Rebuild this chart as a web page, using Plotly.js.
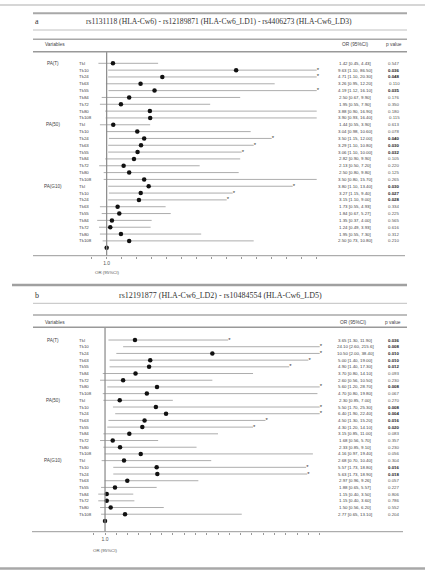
<!DOCTYPE html>
<html>
<head>
<meta charset="utf-8">
<script src="https://cdn.plot.ly/plotly-3.0.1.min.js"></script>
<style>html,body{margin:0;padding:0;background:#fff}#chart{width:425px;height:570px}</style>
</head>
<body>
<div id="chart"></div>
<script>
// ---------- data ----------
const groups = ["PA(T)", "PA(50)", "PA(G10)"];
const rowLabels = ["TkI", "Tk10", "Tk24", "Tk63", "Tk55", "Tk84", "Tk72", "Tk80", "Tk108"];
const refOR = [1.0];

const titleA = "rs1131118 (HLA-Cw6) - rs12189871 (HLA-Cw6_LD1) - rs4406273 (HLA-Cw6_LD3)";
const orA = [1.42, 9.63, 4.71, 3.26, 4.19, 2.50, 1.95, 3.88, 3.90,
             1.44, 3.04, 3.50, 3.29, 3.06, 2.82, 2.13, 2.50, 3.50,
             3.80, 3.27, 3.15, 1.73, 1.84, 1.35, 1.24, 1.95, 2.50];
const loA = [0.45, 1.10, 1.10, 0.95, 1.12, 0.67, 0.55, 0.90, 0.93,
             0.55, 0.98, 1.15, 1.10, 1.10, 0.90, 0.50, 0.80, 0.80,
             1.10, 1.15, 1.10, 0.55, 0.67, 0.37, 0.49, 0.55, 0.73];
const hiA = [4.43, 86.5, 20.3, 12.2, 16.1, 9.90, 7.90, 16.9, 16.4,
             3.90, 10.6, 12.0, 10.8, 10.0, 9.90, 7.20, 9.80, 15.7,
             13.4, 9.40, 9.00, 4.93, 5.27, 4.00, 3.93, 7.30, 10.8];
const pA = ["0.547", "0.036", "0.048", "0.110", "0.035", "0.176", "0.350", "0.180", "0.115",
            "0.613", "0.078", "0.040", "0.030", "0.032", "0.105", "0.220", "0.125", "0.265",
            "0.030", "0.027", "0.028", "0.334", "0.225", "0.565", "0.616", "0.312", "0.210"];

const titleB = "rs12191877 (HLA-Cw6_LD2) - rs10484554 (HLA-Cw6_LD5)";
const orB = [3.65, 24.1, 10.5, 5.00, 4.90, 3.70, 2.60, 5.60, 4.70,
             2.30, 5.50, 6.40, 4.50, 4.30, 3.15, 1.68, 2.33, 4.16,
             2.68, 5.57, 5.63, 2.97, 1.88, 1.15, 1.15, 1.50, 2.77];
const loB = [1.30, 2.60, 2.00, 1.40, 1.40, 0.80, 0.56, 1.20, 0.80,
             0.85, 1.70, 1.90, 1.30, 1.20, 0.85, 0.56, 0.85, 0.97,
             0.70, 1.73, 1.73, 0.96, 0.65, 0.40, 0.40, 0.56, 0.65];
const hiB = [11.9, 215.6, 38.4, 19.0, 17.3, 14.1, 10.5, 28.7, 19.8,
             7.00, 25.3, 22.4, 15.2, 14.1, 11.0, 5.70, 9.10, 19.4,
             10.4, 18.8, 18.9, 9.26, 5.57, 3.50, 3.60, 6.20, 13.1];
const pB = ["0.036", "0.008", "0.010", "0.010", "0.012", "0.093", "0.230", "0.008", "0.067",
            "0.270", "0.008", "0.004", "0.016", "0.020", "0.083", "0.357", "0.230", "0.056",
            "0.304", "0.016", "0.018", "0.057", "0.227", "0.806", "0.786", "0.552", "0.204"];

// ---------- helpers ----------
const W = 425, H = 570;
const px = x => x / W;
const py = y => 1 - y / H;
const fmt = v => (v >= 100 ? v.toFixed(1) : v.toFixed(2));
const SANS = "Liberation Sans, Arial, sans-serif";
const SERIF = "Liberation Serif, Times New Roman, serif";

const traces = [];
const annotations = [];
const shapes = [];

function hline(y, x0, x1, color, width) {
  shapes.push({type: "line", xref: "paper", yref: "paper", x0: px(x0), x1: px(x1), y0: py(y), y1: py(y),
               line: {color: color, width: width}});
}
function txt(text, x, y, opts) {
  annotations.push(Object.assign({text: text, x: x, y: y, xref: "paper", yref: "paper",
    showarrow: false, xanchor: "left", yanchor: "middle",
    font: {family: SANS, size: 4.6, color: "#444"}}, opts || {}));
}

function panel(xa, ya, or, lo, hi, p, xmax) {
  const n = or.length;
  const lx = [], ly = [];
  for (let i = 0; i < n; i++) { lx.push(lo[i], hi[i], null); ly.push(i, i, null); }
  traces.push({type: "scatter", mode: "lines", x: lx, y: ly, xaxis: xa, yaxis: ya,
               line: {color: "#adadad", width: 1}, hoverinfo: "skip"});
  const idx = or.map((_, i) => i);
  traces.push({type: "scatter", mode: "markers", x: or.concat(refOR), y: idx.concat([n]),
               xaxis: xa, yaxis: ya, marker: {color: "#111", size: 4.5, symbol: "circle"},
               hoverinfo: "skip"});
  // significance asterisks
  const sx = [], sy = [];
  for (let i = 0; i < n; i++) {
    if (parseFloat(p[i]) < 0.05) { sx.push(Math.min(hi[i], xmax)); sy.push(i); }
  }
  traces.push({type: "scatter", mode: "text", x: sx, y: sy, text: sx.map(() => "*"),
               textposition: "middle right", cliponaxis: false,
               textfont: {family: SANS, size: 6, color: "#333"},
               xaxis: xa, yaxis: ya, hoverinfo: "skip"});
  const yref = ya;
  for (let i = 0; i < n; i++) {
    const g = Math.floor(i / 9), r = i % 9;
    if (r === 0) {
      annotations.push({text: groups[g], x: px(53), y: i, xref: "paper", yref: yref, showarrow: false,
                        xanchor: "center", yanchor: "middle", font: {family: SANS, size: 4.6, color: "#444"}});
    }
    annotations.push({text: rowLabels[r], x: px(76.5), y: i, xref: "paper", yref: yref, showarrow: false,
                      xanchor: "left", yanchor: "middle", font: {family: SANS, size: 4.4, color: "#444"}});
    annotations.push({text: fmt(or[i]) + " [" + fmt(lo[i]) + ", " + fmt(hi[i]) + "]",
                      x: px(355), y: i, xref: "paper", yref: yref, showarrow: false,
                      xanchor: "center", yanchor: "middle", font: {family: SANS, size: 4.4, color: "#444"}});
    const sig = parseFloat(p[i]) < 0.05;
    annotations.push({text: sig ? "<b>" + p[i] + "</b>" : p[i],
                      x: px(394), y: i, xref: "paper", yref: yref, showarrow: false,
                      xanchor: "center", yanchor: "middle", font: {family: SANS, size: 4.4, color: sig ? "#222" : "#555"}});
  }
}

// ---------- panel a ----------
panel("x", "y", orA, loA, hiA, pA, 15);
// ---------- panel b ----------
panel("x2", "y2", orB, loB, hiB, pB, 20);

// reference lines at OR = 1
shapes.push({type: "line", xref: "x", yref: "y domain", x0: 1, x1: 1, y0: 0, y1: 1, line: {color: "#888", width: 1.2}});
shapes.push({type: "line", xref: "x2", yref: "y2 domain", x0: 1, x1: 1, y0: 0, y1: 1, line: {color: "#888", width: 1.2}});

// table rules
hline(5, 0, 425, "#c8c8c8", 1.5);
hline(13.3, 33, 407, "#a8a8a8", 2);
hline(30, 33, 407, "#c0c0c0", 1);
hline(39.3, 33, 407, "#a8a8a8", 1.5);
hline(51.7, 33, 407, "#999", 1.5);
hline(255.7, 33, 405, "#999", 1);

hline(285, 12, 407, "#a0a0a0", 2.5);
hline(303.3, 33, 407, "#c0c0c0", 1);
hline(315, 33, 407, "#a8a8a8", 1.5);
hline(327.3, 33, 407, "#999", 1.5);
hline(531.7, 32, 403, "#999", 1);
hline(568.5, 0, 425, "#a8a8a8", 2.5);

// titles and headers
txt("a", px(33), py(21.7), {font: {family: SERIF, size: 8, color: "#333"}});
txt(titleA, px(219), py(21.7), {xanchor: "center", font: {family: SERIF, size: 7.6, color: "#333"}});
txt("Variables", px(43), py(44.5), {font: {family: SANS, size: 4.8, color: "#444"}});
txt("OR (95%CI)", px(355), py(44.5), {xanchor: "center", font: {family: SANS, size: 4.8, color: "#444"}});
txt("p value", px(394), py(44.5), {xanchor: "center", font: {family: SANS, size: 4.8, color: "#444"}});
annotations.push({text: "OR (95%CI)", x: 1, xref: "x", y: py(272.7), yref: "paper", showarrow: false,
                  xanchor: "center", yanchor: "middle", font: {family: SANS, size: 4.4, color: "#555"}});

txt("b", px(33), py(295), {font: {family: SERIF, size: 8, color: "#333"}});
txt(titleB, px(220), py(295), {xanchor: "center", font: {family: SERIF, size: 8, color: "#333"}});
txt("Variables", px(43), py(322), {font: {family: SANS, size: 4.8, color: "#444"}});
txt("OR (95%CI)", px(353), py(322), {xanchor: "center", font: {family: SANS, size: 4.8, color: "#444"}});
txt("p value", px(393), py(322), {xanchor: "center", font: {family: SANS, size: 4.8, color: "#444"}});
annotations.push({text: "OR (95%CI)", x: 1, xref: "x2", y: py(550), yref: "paper", showarrow: false,
                  xanchor: "center", yanchor: "middle", font: {family: SANS, size: 4.4, color: "#555"}});

function ticks(max) {
  const v = [], t = [];
  for (let k = 0; k <= max; k++) { v.push(k); t.push(k === 1 ? "1.0" : ""); }
  return {v, t};
}
const tA = ticks(15), tB = ticks(20);
const axisCommon = {showgrid: false, zeroline: false, showline: false, ticks: "outside", ticklen: 2,
                    tickcolor: "#999", tickwidth: 1, tickfont: {family: SANS, size: 5, color: "#555"},
                    fixedrange: true};

const layout = {
  width: W, height: H, margin: {l: 0, r: 0, t: 0, b: 0},
  paper_bgcolor: "#fff", plot_bgcolor: "rgba(0,0,0,0)", showlegend: false,
  xaxis: Object.assign({}, axisCommon, {domain: [px(33), px(316.7)], range: [-3.91, 15], anchor: "y",
                        tickvals: tA.v, ticktext: tA.t}),
  yaxis: {domain: [py(255.7), py(52)], range: [28.17, -1.654], visible: false, fixedrange: true},
  xaxis2: Object.assign({}, axisCommon, {domain: [px(31.7), px(319.7)], range: [-5.49, 20], anchor: "y2",
                         tickvals: tB.v, ticktext: tB.t}),
  yaxis2: {domain: [py(531.7), py(327.3)], range: [28.61, -1.90], visible: false, fixedrange: true},
  shapes: shapes,
  annotations: annotations
};

Plotly.newPlot("chart", traces, layout, {displayModeBar: false, staticPlot: true});
</script>
</body>
</html>
